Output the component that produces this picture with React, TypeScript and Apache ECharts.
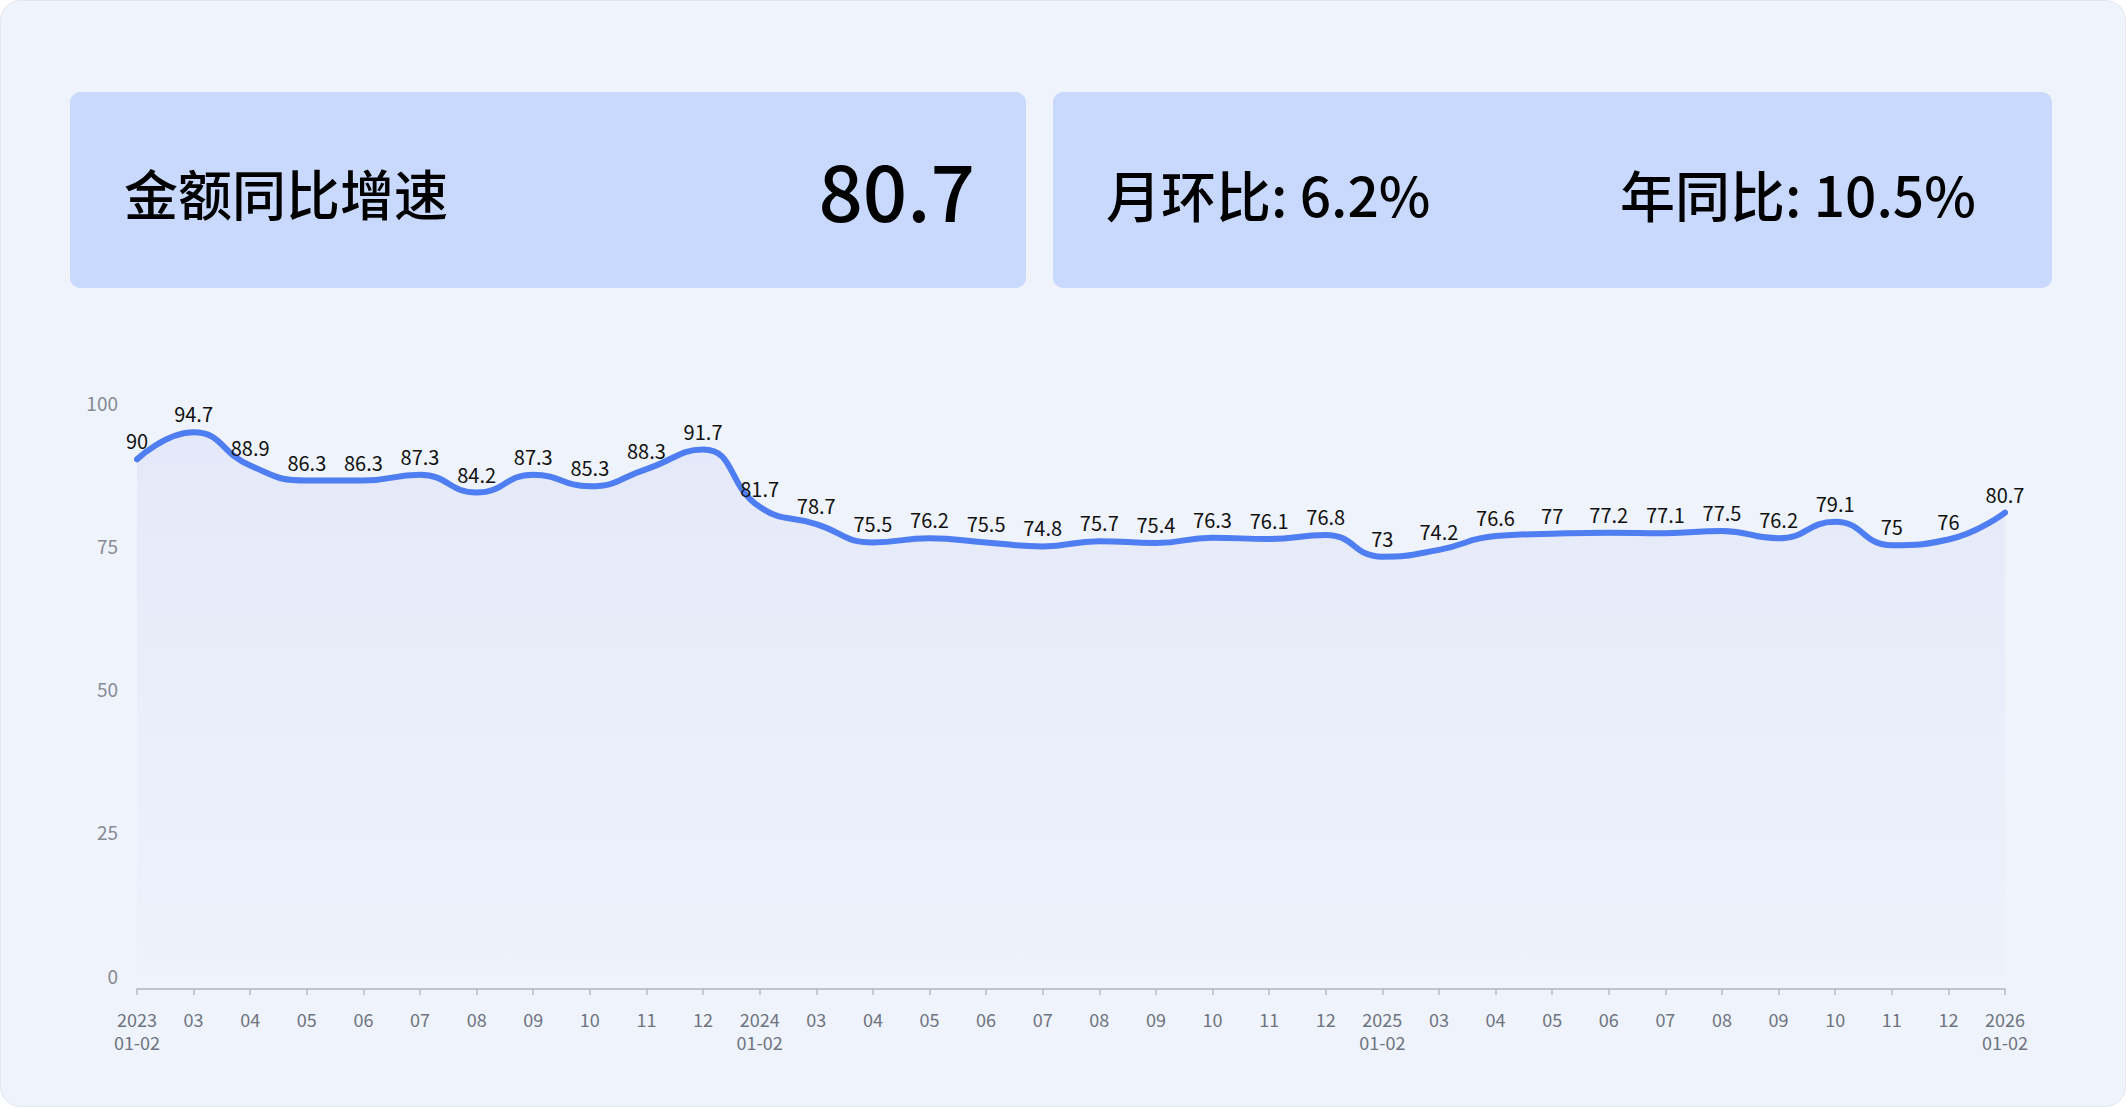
import React, { useEffect, useRef } from "react";
import * as echarts from "echarts";

const categories: string[] = [
  "2023\n01-02", "03", "04", "05", "06", "07", "08", "09", "10", "11", "12",
  "2024\n01-02", "03", "04", "05", "06", "07", "08", "09", "10", "11", "12",
  "2025\n01-02", "03", "04", "05", "06", "07", "08", "09", "10", "11", "12",
  "2026\n01-02",
];

const values: number[] = [
  90, 94.7, 88.9, 86.3, 86.3, 87.3, 84.2, 87.3, 85.3, 88.3, 91.7,
  81.7, 78.7, 75.5, 76.2, 75.5, 74.8, 75.7, 75.4, 76.3, 76.1, 76.8,
  73, 74.2, 76.6, 77, 77.2, 77.1, 77.5, 76.2, 79.1, 75, 76,
  80.7,
];

const yTicks: number[] = [0, 25, 50, 75, 100];

const titleText = "金额同比增速";
const headlineValue = "80.7";
const momText = "月环比: 6.2%";
const yoyText = "年同比: 10.5%";

const FONT = '"Noto Sans CJK SC", "Noto Sans", sans-serif';

export default function App() {
  const ref = useRef<HTMLDivElement>(null);

  useEffect(() => {
    document.body.style.margin = "0";
    document.body.style.background = "#ffffff";
    if (!ref.current) return;
    const chart = echarts.init(ref.current, undefined, { renderer: "svg" });
    chart.setOption({
      animation: false,
      textStyle: { fontFamily: FONT },
      graphic: [
        {
          type: "rect",
          z: -10,
          silent: true,
          shape: { x: 0.5, y: 0.5, width: 2125, height: 1106, r: 20 },
          style: { fill: "#eff3fb", stroke: "#e2e6ee", lineWidth: 1 },
        },
        {
          type: "rect",
          z: -5,
          shape: { x: 70, y: 92, width: 956, height: 196, r: 10 },
          style: { fill: "#c8d9fd" },
        },
        {
          type: "rect",
          z: -5,
          shape: { x: 1053, y: 92, width: 999, height: 196, r: 10 },
          style: { fill: "#c8d9fd" },
        },
        {
          type: "text",
          x: 124,
          y: 192,
          style: {
            text: titleText,
            fill: "#000000",
            font: `500 54px ${FONT}`,
            textAlign: "left",
            textVerticalAlign: "middle",
          },
        },
        {
          type: "text",
          x: 975,
          y: 188,
          style: {
            text: headlineValue,
            fill: "#000000",
            font: `500 78px ${FONT}`,
            textAlign: "right",
            textVerticalAlign: "middle",
          },
        },
        {
          type: "text",
          x: 1106,
          y: 193,
          style: {
            text: momText,
            fill: "#000000",
            font: `500 55px ${FONT}`,
            textAlign: "left",
            textVerticalAlign: "middle",
          },
        },
        {
          type: "text",
          x: 1620,
          y: 193,
          style: {
            text: yoyText,
            fill: "#000000",
            font: `500 55px ${FONT}`,
            textAlign: "left",
            textVerticalAlign: "middle",
          },
        },
      ],
      grid: { left: 137, right: 122, top: 402, bottom: 133, containLabel: false },
      xAxis: {
        type: "category",
        data: categories,
        boundaryGap: false,
        offset: 14,
        axisLine: { show: true, onZero: false, lineStyle: { color: "#c0c4cc", width: 2 } },
        axisTick: { show: true, alignWithLabel: true, length: 6, lineStyle: { color: "#b8bcc4", width: 1.5 } },
        axisLabel: {
          interval: 0,
          color: "#6e7480",
          fontSize: 18,
          lineHeight: 23,
          margin: 18,
          fontFamily: FONT,
        },
        splitLine: { show: false },
      },
      yAxis: {
        type: "value",
        min: yTicks[0],
        max: yTicks[yTicks.length - 1],
        interval: 25,
        axisLine: { show: false },
        axisTick: { show: false },
        splitLine: { show: false },
        axisLabel: { color: "#868b95", fontSize: 19, margin: 19, fontFamily: FONT },
      },
      series: [
        {
          type: "line",
          data: values,
          smooth: 0.5,
          symbol: "circle",
          symbolSize: 5,
          showSymbol: true,
          itemStyle: { color: "#4f7ef2" },
          lineStyle: { color: "#4f7ef2", width: 6, cap: "round", join: "round" },
          label: {
            show: true,
            position: "top",
            distance: 6,
            color: "#111111",
            fontSize: 20,
            fontFamily: FONT,
          },
          areaStyle: {
            color: new echarts.graphic.LinearGradient(0, 0, 0, 1, [
              { offset: 0, color: "rgba(205, 210, 245, 0.45)" },
              { offset: 1, color: "rgba(215, 222, 245, 0.1)" },
            ]),
          },
        },
      ],
    });
    return () => chart.dispose();
  }, []);

  return <div ref={ref} style={{ width: 2127, height: 1108 }} />;
}
